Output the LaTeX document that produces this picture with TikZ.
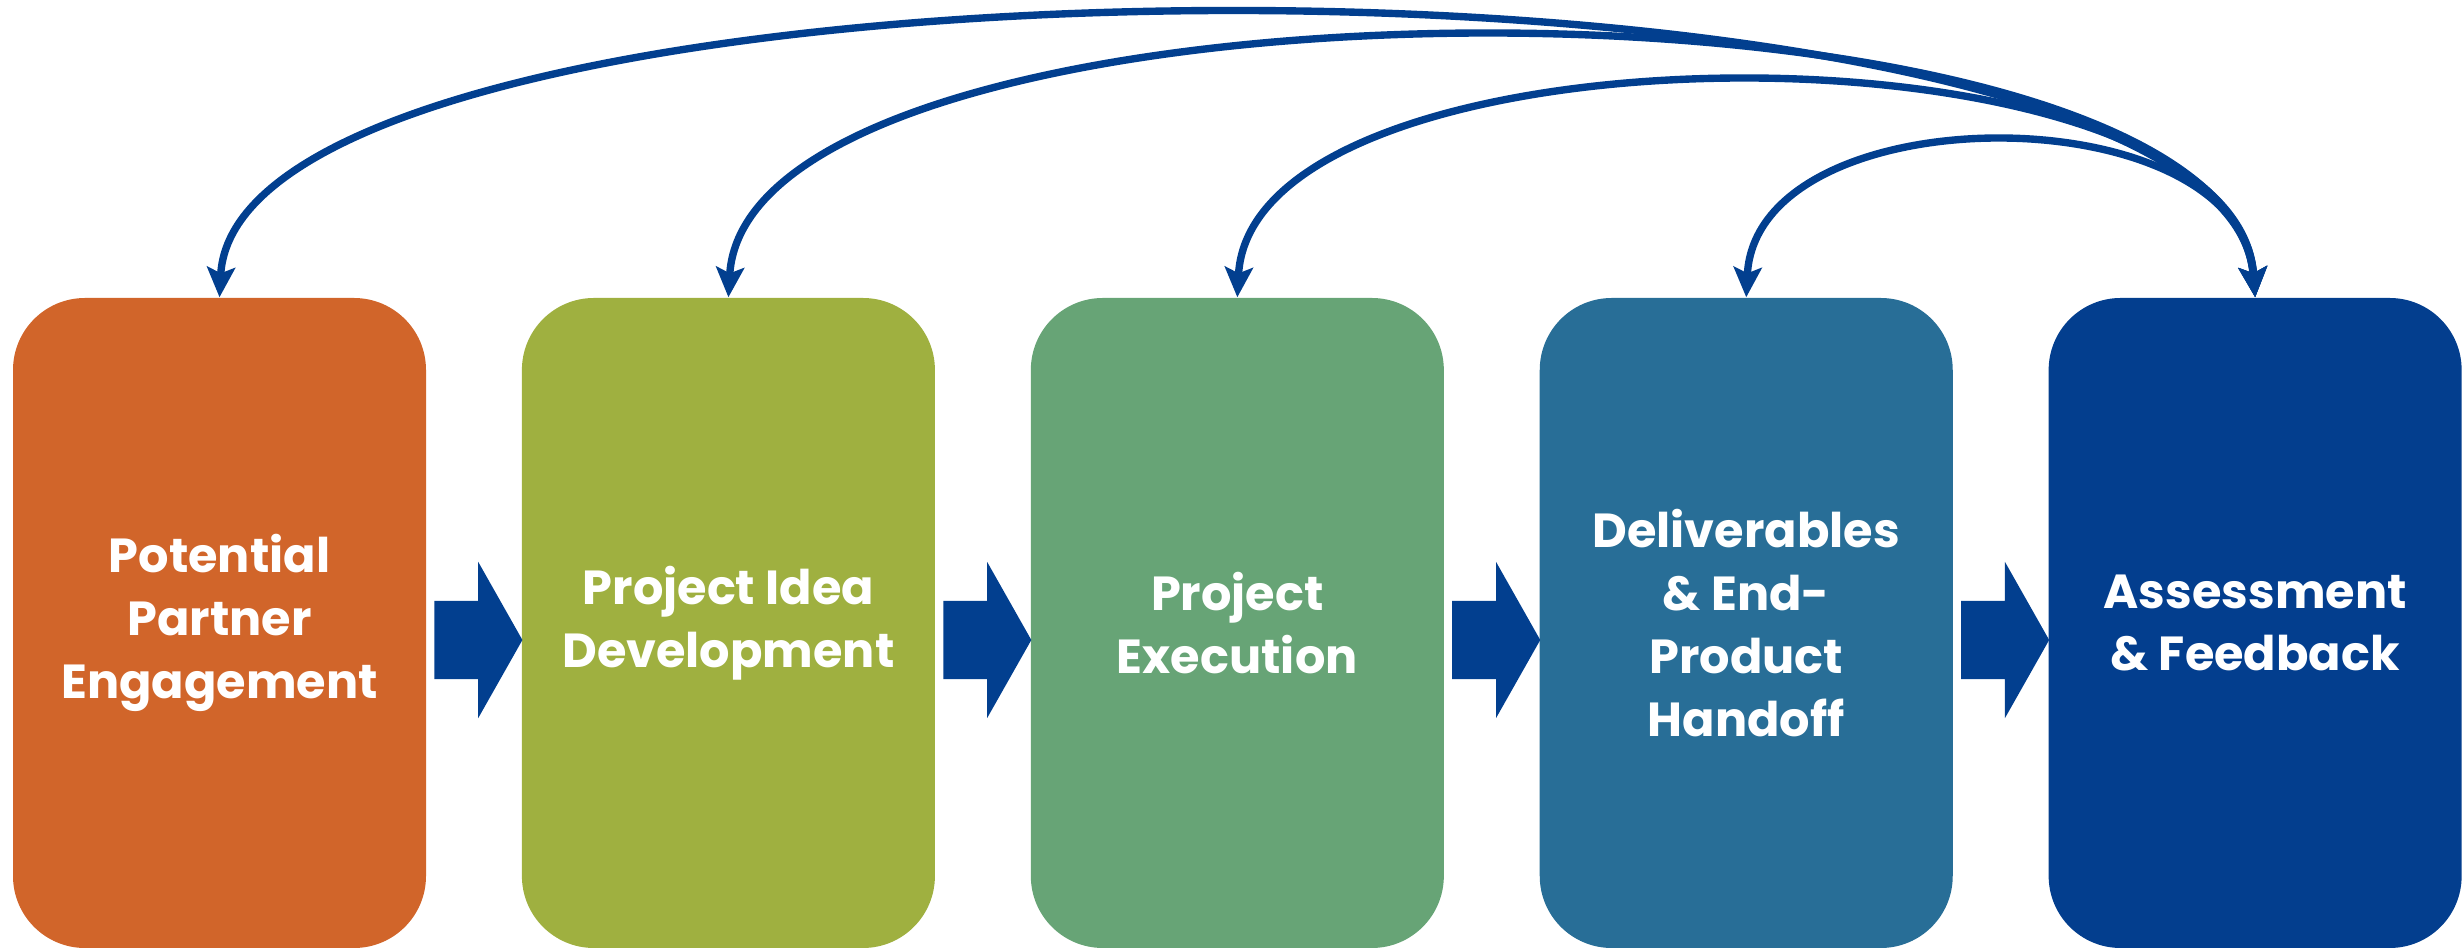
\documentclass[tikz,border=0pt]{standalone}
\usepackage{fontspec}
\setmainfont{Poppins}
\usetikzlibrary{positioning,shapes.arrows,arrows.meta}

\definecolor{partnerorange}{HTML}{D1652A}
\definecolor{ideagreen}{HTML}{9FB040}
\definecolor{execgreen}{HTML}{67A476}
\definecolor{handoffblue}{HTML}{286E97}
\definecolor{feedbackblue}{HTML}{033E8E}
\definecolor{flowblue}{HTML}{023F8F}

\tikzset{
  stage/.style={rounded corners=0.72cm, minimum width=4.13cm, minimum height=6.5cm,
    align=center, text=white, inner sep=0pt,
    font=\bfseries\fontsize{13.6}{17.9}\selectfont},
  blockarrow/.style={single arrow, fill=flowblue, inner xsep=0pt, inner ysep=0.385cm,
    minimum height=0.88cm,
    single arrow head extend=0.39cm, single arrow tip angle=121},
  feedback/.style={flowblue, line width=2.1pt,
    {Stealth[length=0.3cm,width=0.28cm,inset=0.06cm]}-{Stealth[length=0.3cm,width=0.28cm,inset=0.06cm]}}
}

\begin{document}
\begin{tikzpicture}
\useasboundingbox (0,0) rectangle (24.63,9.5);
% the five stages
\node[stage,fill=partnerorange] (b1) at (2.195,3.27) {Potential\\Partner\\Engagement};
\node[stage,fill=ideagreen,right=0.945cm of b1] (b2) {Project Idea\\Development};
\node[stage,fill=execgreen,right=0.945cm of b2] (b3) {Project\\Execution};
\node[stage,fill=handoffblue,right=0.945cm of b3] (b4) {Deliverables\\\& End-\\Product\\Handoff};
\node[stage,fill=feedbackblue,right=0.945cm of b4] (b5) {Assessment\\\& Feedback};
% forward arrows
\node[blockarrow,anchor=tail] (a12) at ([xshift=0.07cm,yshift=-0.17cm]b1.east) {};
\node[blockarrow,anchor=tail] (a23) at ([xshift=0.07cm,yshift=-0.17cm]b2.east) {};
\node[blockarrow,anchor=tail] (a34) at ([xshift=0.07cm,yshift=-0.17cm]b3.east) {};
\node[blockarrow,anchor=tail] (a45) at ([xshift=0.07cm,yshift=-0.17cm]b4.east) {};
% feedback loops
\draw[feedback] (b5.north) .. controls +(-0.3,3.75) and +(0.2,3.75) .. (b1.north);
\draw[feedback] (b5.north) .. controls +(-0.3,3.45) and +(0.2,3.45) .. (b2.north);
\draw[feedback] (b5.north) .. controls +(-0.2,2.85) and +(0.15,2.85) .. (b3.north);
\draw[feedback] (b5.north) .. controls +(-0.15,2.05) and +(0.1,2.05) .. (b4.north);
\end{tikzpicture}
\end{document}
